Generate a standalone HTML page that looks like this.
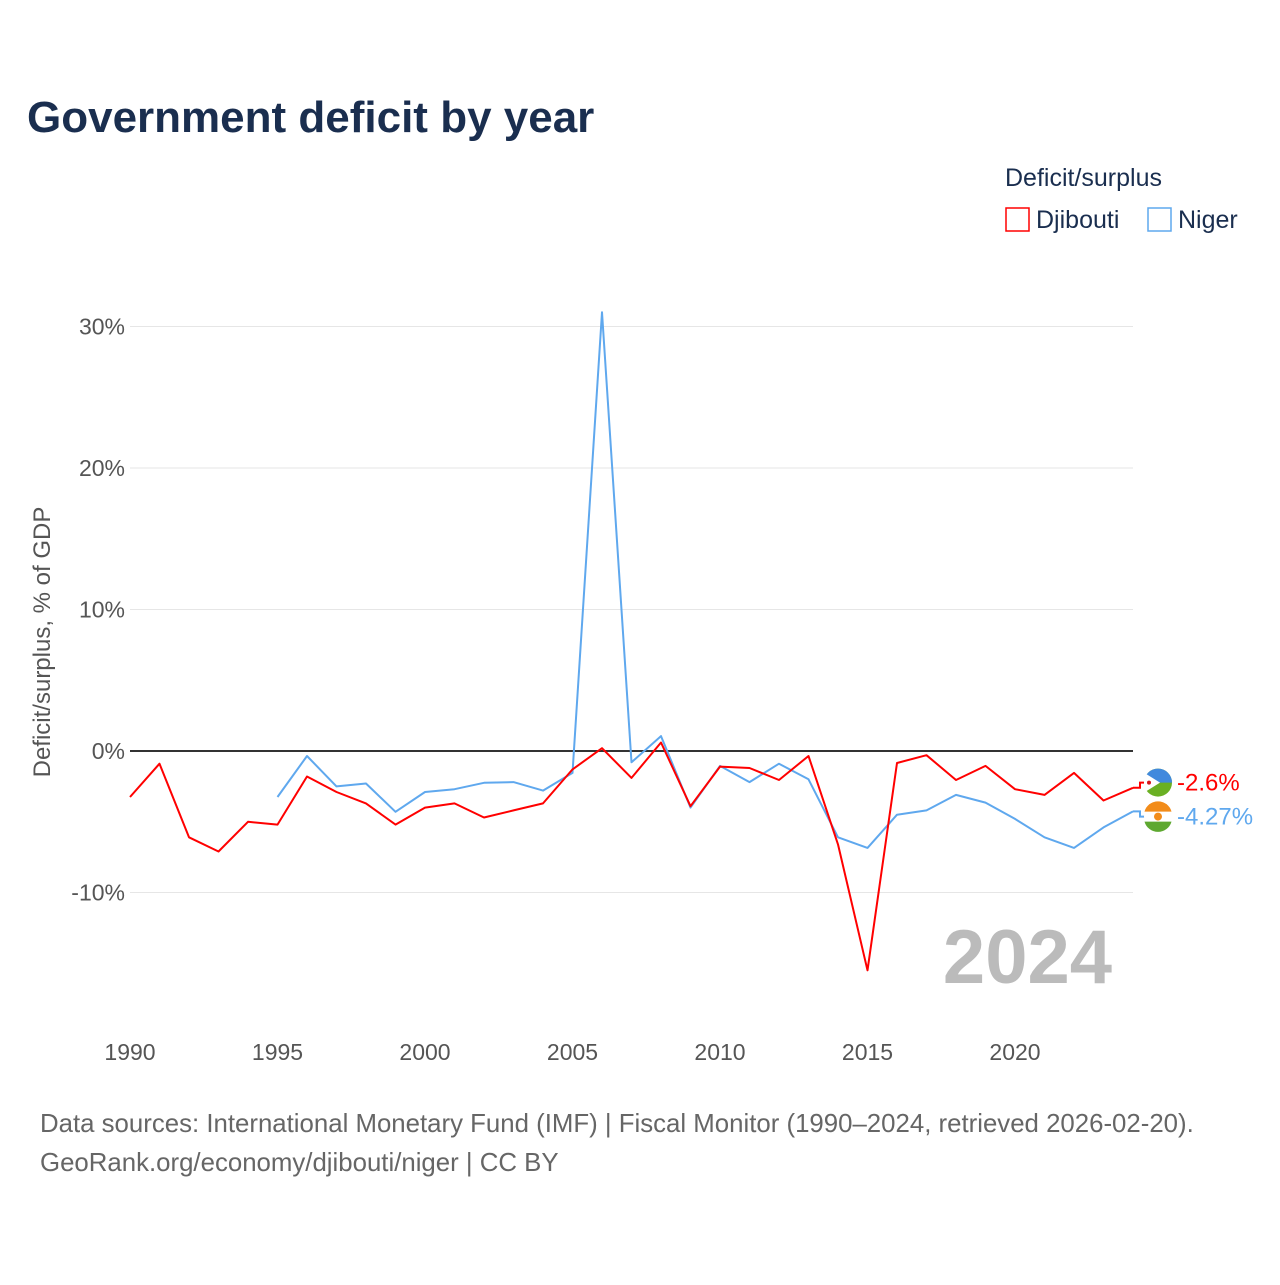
<!DOCTYPE html>
<html><head><meta charset="utf-8"><style>
body{margin:0;background:#fff;font-family:"Liberation Sans",sans-serif;}
svg text{font-family:"Liberation Sans",sans-serif;}
</style></head><body>
<svg width="1280" height="1280" xmlns="http://www.w3.org/2000/svg">
<text x="27" y="132" font-size="44" font-weight="bold" fill="#1a2e4f">Government deficit by year</text>
<text x="1005" y="186" font-size="25" fill="#1a2e4f">Deficit/surplus</text>
<g><rect x="1006" y="208" width="23" height="23" fill="none" stroke="#ff0000" stroke-width="1.5"/><text x="1036" y="228" font-size="25" fill="#1a2e4f">Djibouti</text></g>
<g><rect x="1148" y="208" width="23" height="23" fill="none" stroke="#5fa8ee" stroke-width="1.5"/><text x="1178" y="228" font-size="25" fill="#1a2e4f">Niger</text></g>
<g id="grid"></g>
<g id="series"></g>
<text x="-642" y="0" transform="translate(50,0) rotate(-90)" font-size="24" fill="#555" text-anchor="middle">Deficit/surplus, % of GDP</text>
<text x="1112" y="983" font-size="76" font-weight="bold" fill="#bbb" text-anchor="end">2024</text>
<text x="40" y="1132" font-size="25.8" fill="#666">Data sources: International Monetary Fund (IMF) | Fiscal Monitor (1990–2024, retrieved 2026-02-20).</text>
<text x="40" y="1171" font-size="25.8" fill="#666">GeoRank.org/economy/djibouti/niger | CC BY</text>
</svg>
<script>
const years=[];for(let y=1990;y<=2024;y++)years.push(y);
const djibouti=[-3.25,-0.9,-6.1,-7.1,-5.0,-5.2,-1.8,-2.9,-3.7,-5.2,-4.0,-3.7,-4.7,-4.2,-3.7,-1.3,0.2,-1.9,0.6,-3.9,-1.1,-1.2,-2.05,-0.35,-6.6,-15.5,-0.85,-0.3,-2.05,-1.05,-2.7,-3.1,-1.55,-3.5,-2.6];
const niger=[null,null,null,null,null,-3.25,-0.35,-2.5,-2.3,-4.3,-2.9,-2.7,-2.25,-2.2,-2.8,-1.55,31.0,-0.8,1.05,-4.0,-1.05,-2.2,-0.9,-2.0,-6.1,-6.85,-4.5,-4.2,-3.1,-3.65,-4.8,-6.1,-6.85,-5.4,-4.27];
const yTicks=[30,20,10,0,-10];
const xTicks=[1990,1995,2000,2005,2010,2015,2020];
const X=y=>130+(y-1990)*(1133-130)/34;
const Y=v=>751-v*14.15;
const NS='http://www.w3.org/2000/svg';
function mk(t,a,p){const e=document.createElementNS(NS,t);for(const k in a)e.setAttribute(k,a[k]);p.appendChild(e);return e;}
const g=document.getElementById('grid');
yTicks.forEach(v=>{
 const l=mk('line',{x1:130,x2:1133,y1:Y(v),y2:Y(v),stroke:v===0?'#333':'#e6e6e6','stroke-width':v===0?2:1},g);
 
 
 const t=mk('text',{x:125,y:Y(v)+8,'font-size':23,fill:'#555','text-anchor':'end'},g);
 t.textContent=v+'%';
 
 
});
xTicks.forEach(v=>{
 const t=mk('text',{x:X(v),y:1060,'font-size':23,fill:'#555','text-anchor':'middle'},g);
 t.textContent=v;
 
 
});
const s=document.getElementById('series');
function line(data,color,name){
 const pts=[];data.forEach((v,i)=>{if(v!==null)pts.push(X(years[i]).toFixed(1)+','+Y(v).toFixed(1));});
 const p=mk('polyline',{points:pts.join(' '),fill:'none',stroke:color,'stroke-width':2,'stroke-linejoin':'round'},s);
 
 
}
line(niger,'#5fa8ee','niger-line');
line(djibouti,'#ff0000','djibouti-line');
function endLabel(v,ly,color,txt,name,flag){
 const y0=Y(v), y=ly;
 mk('polyline',{points:`1133,${y0} 1140,${y0} 1140,${y} 1146,${y}`,fill:'none',stroke:color,'stroke-width':2},s);
 const c=mk('g',{},s);
 
 
 if(flag==='dj'){
  mk('circle',{cx:1158,cy:y,r:14,fill:'#6ab023'},c);
  mk('path',{d:`M1144,${y} A14,14 0 0 1 1172,${y} Z`,fill:'#4189dd'},c);
  mk('path',{d:`M1144,${y-10} L1160,${y} L1144,${y+10} Z`,fill:'#fff'},c);
  mk('circle',{cx:1149,cy:y,r:2,fill:'#d7141a'},c);
 }else{
  mk('circle',{cx:1158,cy:y,r:14,fill:'#fff'},c);
  mk('path',{d:`M1144.5,${y-5} A14,14 0 0 1 1171.5,${y-5} Z`,fill:'#f28c1a'},c);
  mk('path',{d:`M1144.5,${y+5} A14,14 0 0 0 1171.5,${y+5} Z`,fill:'#5ea830'},c);
  mk('circle',{cx:1158,cy:y,r:4,fill:'#f28c1a'},c);
 }
 const t=mk('text',{x:1177,y:y+8,'font-size':24,fill:color},s);
 t.textContent=txt;
 
 
}
const dY=Y(djibouti[34]), nY=Y(niger[34]);
let dl=dY, nl=nY;
if(Math.abs(nl-dl)<34){const m=(dl+nl)/2;dl=m-17;nl=m+17;}
endLabel(djibouti[34],dl,'#ff0000',djibouti[34]+'%','djibouti','dj');
endLabel(niger[34],nl,'#5fa8ee',niger[34]+'%','niger','ne');
</script>
</body></html>
